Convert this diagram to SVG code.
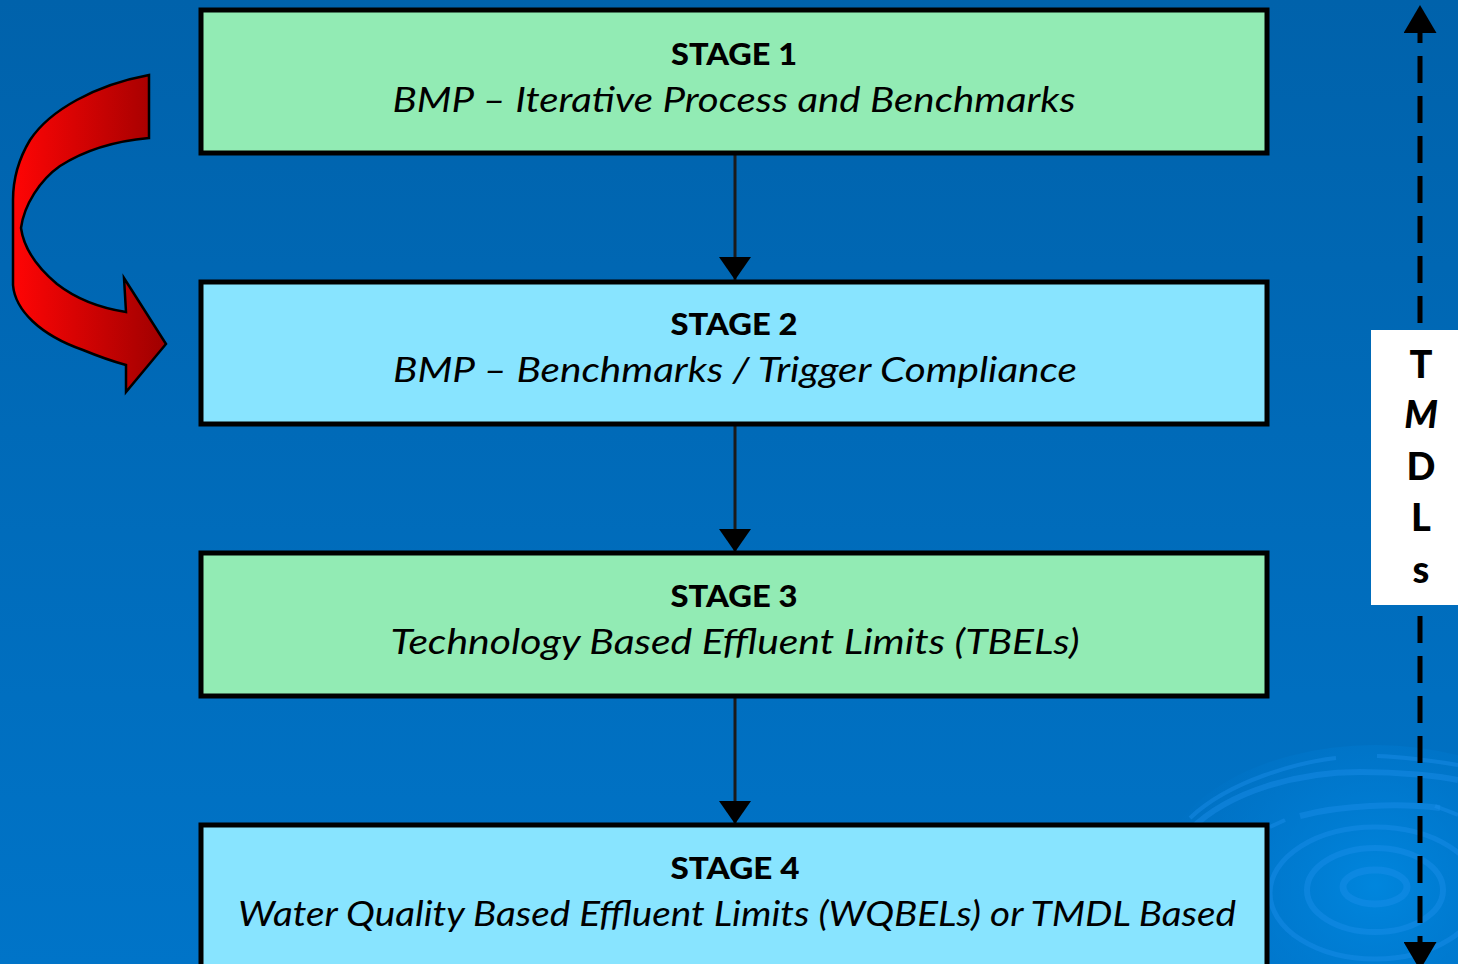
<svg xmlns="http://www.w3.org/2000/svg" width="1458" height="964" viewBox="0 0 1458 964">
<defs>
<linearGradient id="bg" x1="0" y1="0" x2="0" y2="1">
<stop offset="0" stop-color="#0062AB"/>
<stop offset="1" stop-color="#0074C8"/>
</linearGradient>
<linearGradient id="red" x1="0" y1="0" x2="1" y2="0">
<stop offset="0" stop-color="#FF0505"/>
<stop offset="1" stop-color="#9E0000"/>
</linearGradient>
<radialGradient id="glow" cx="1375" cy="885" r="220" gradientUnits="userSpaceOnUse">
<stop offset="0" stop-color="#0088E0" stop-opacity="0.9"/>
<stop offset="1" stop-color="#0078D0" stop-opacity="0"/>
</radialGradient>
<marker id="ah" viewBox="0 0 23 32" refX="23" refY="16" markerWidth="23" markerHeight="32" markerUnits="userSpaceOnUse" orient="auto-start-reverse">
<path d="M0,0 L23,16 L0,32 Z" fill="#000"/>
</marker>
<marker id="ah2" viewBox="0 0 28 33" refX="28" refY="16.5" markerWidth="28" markerHeight="33" markerUnits="userSpaceOnUse" orient="auto-start-reverse">
<path d="M0,0 L28,16.5 L0,33 Z" fill="#000"/>
</marker>
</defs>
<style>
.box{stroke:#000;stroke-width:5}
.green{fill:#92EBB4}
.cyan{fill:#88E4FF}
.stage{font-family:Lato,"Open Sans",sans-serif;font-weight:900;font-size:31px;fill:#000;text-anchor:middle}
.sub{font-family:Lato,"Open Sans",sans-serif;font-style:italic;font-size:35px;fill:#000;text-anchor:middle}
.conn{stroke:#1a1a1a;stroke-width:3;fill:none}
.ripple{fill:none;stroke:#1E90EE;stroke-opacity:0.4}
.tm{font-family:Lato,"Open Sans",sans-serif;font-weight:900;font-size:38px;fill:#000;text-anchor:middle}
</style>
<rect x="0" y="0" width="1458" height="964" fill="url(#bg)"/>
<g id="ripples">
<ellipse cx="1375" cy="885" rx="220" ry="140" fill="url(#glow)"/>
<ellipse class="ripple" cx="1375" cy="887" rx="32" ry="17" stroke-width="7"/>
<ellipse class="ripple" cx="1375" cy="890" rx="68" ry="42" stroke-width="6"/>
<ellipse class="ripple" cx="1375" cy="893" rx="105" ry="66" stroke-width="5"/>
<path class="ripple" stroke-width="6" d="M1300,816 C1340,805 1400,803 1440,808"/>
<path class="ripple" stroke-width="4" d="M1270,827 L1285,820"/>
<path class="ripple" stroke-width="6" d="M1190,830 C1230,790 1300,772 1360,772 C1400,772 1440,776 1458,780"/>
<path class="ripple" stroke-width="4" d="M1190,818 C1230,780 1300,762 1336,758"/>
<path class="ripple" stroke-width="4" d="M1377,756 C1410,757 1440,762 1458,765"/>
<path class="ripple" stroke-width="4" d="M1435,806 L1458,815"/>
</g>
<g id="tmdl-line">
<line x1="1420" y1="5" x2="1420" y2="970" stroke="#000" stroke-width="5" stroke-dasharray="27 13" stroke-dashoffset="29" marker-start="url(#ah2)" marker-end="url(#ah2)"/>
</g>
<g id="red-arrow">
<path d="M149,75 C95,85 50,110 30,140 C18,160 13,180 13,200 L13,285 C15,310 40,335 83,350 C100,357 115,362 126,365 L126,392 L166,344 L124,278 L126,312 C100,308 75,298 57,284 C38,268 24,250 21,228 C24,205 40,180 60,166 C85,150 115,141 149,138 Z" fill="url(#red)" stroke="#000" stroke-width="2.5" stroke-linejoin="miter"/>
</g>
<g id="tmdls">
<rect x="1371" y="330" width="90" height="275" fill="#FFFFFF"/>
<text class="tm" x="1421" y="378">T</text>
<text class="tm" x="1421" y="428" font-style="italic">M</text>
<text class="tm" x="1421" y="480">D</text>
<text class="tm" x="1421" y="531">L</text>
<text class="tm" x="1421" y="583">s</text>
</g>
<g id="connectors">
<line class="conn" x1="735" y1="155" x2="735" y2="280" marker-end="url(#ah)"/>
<line class="conn" x1="735" y1="426" x2="735" y2="552" marker-end="url(#ah)"/>
<line class="conn" x1="735" y1="697" x2="735" y2="824" marker-end="url(#ah)"/>
</g>
<g id="stage1">
<rect class="box green" x="201" y="10" width="1066" height="143"/>
<text class="stage" x="734" y="65" textLength="126" lengthAdjust="spacingAndGlyphs">STAGE 1</text>
<text class="sub" x="734" y="112" textLength="683" lengthAdjust="spacingAndGlyphs">BMP – Iterative Process and Benchmarks</text>
</g>
<g id="stage2">
<rect class="box cyan" x="201" y="282" width="1066" height="142"/>
<text class="stage" x="734" y="335" textLength="127" lengthAdjust="spacingAndGlyphs">STAGE 2</text>
<text class="sub" x="735" y="382" textLength="684" lengthAdjust="spacingAndGlyphs">BMP – Benchmarks / Trigger Compliance</text>
</g>
<g id="stage3">
<rect class="box green" x="201" y="553" width="1066" height="143"/>
<text class="stage" x="734" y="607" textLength="127" lengthAdjust="spacingAndGlyphs">STAGE 3</text>
<text class="sub" x="735" y="654" textLength="689" lengthAdjust="spacingAndGlyphs">Technology Based Effluent Limits (TBELs)</text>
</g>
<g id="stage4">
<rect class="box cyan" x="201" y="825" width="1066" height="160"/>
<text class="stage" x="735" y="879" textLength="129" lengthAdjust="spacingAndGlyphs">STAGE 4</text>
<text class="sub" x="737" y="926" textLength="998" lengthAdjust="spacingAndGlyphs">Water Quality Based Effluent Limits (WQBELs) or TMDL Based</text>
</g>
</svg>
